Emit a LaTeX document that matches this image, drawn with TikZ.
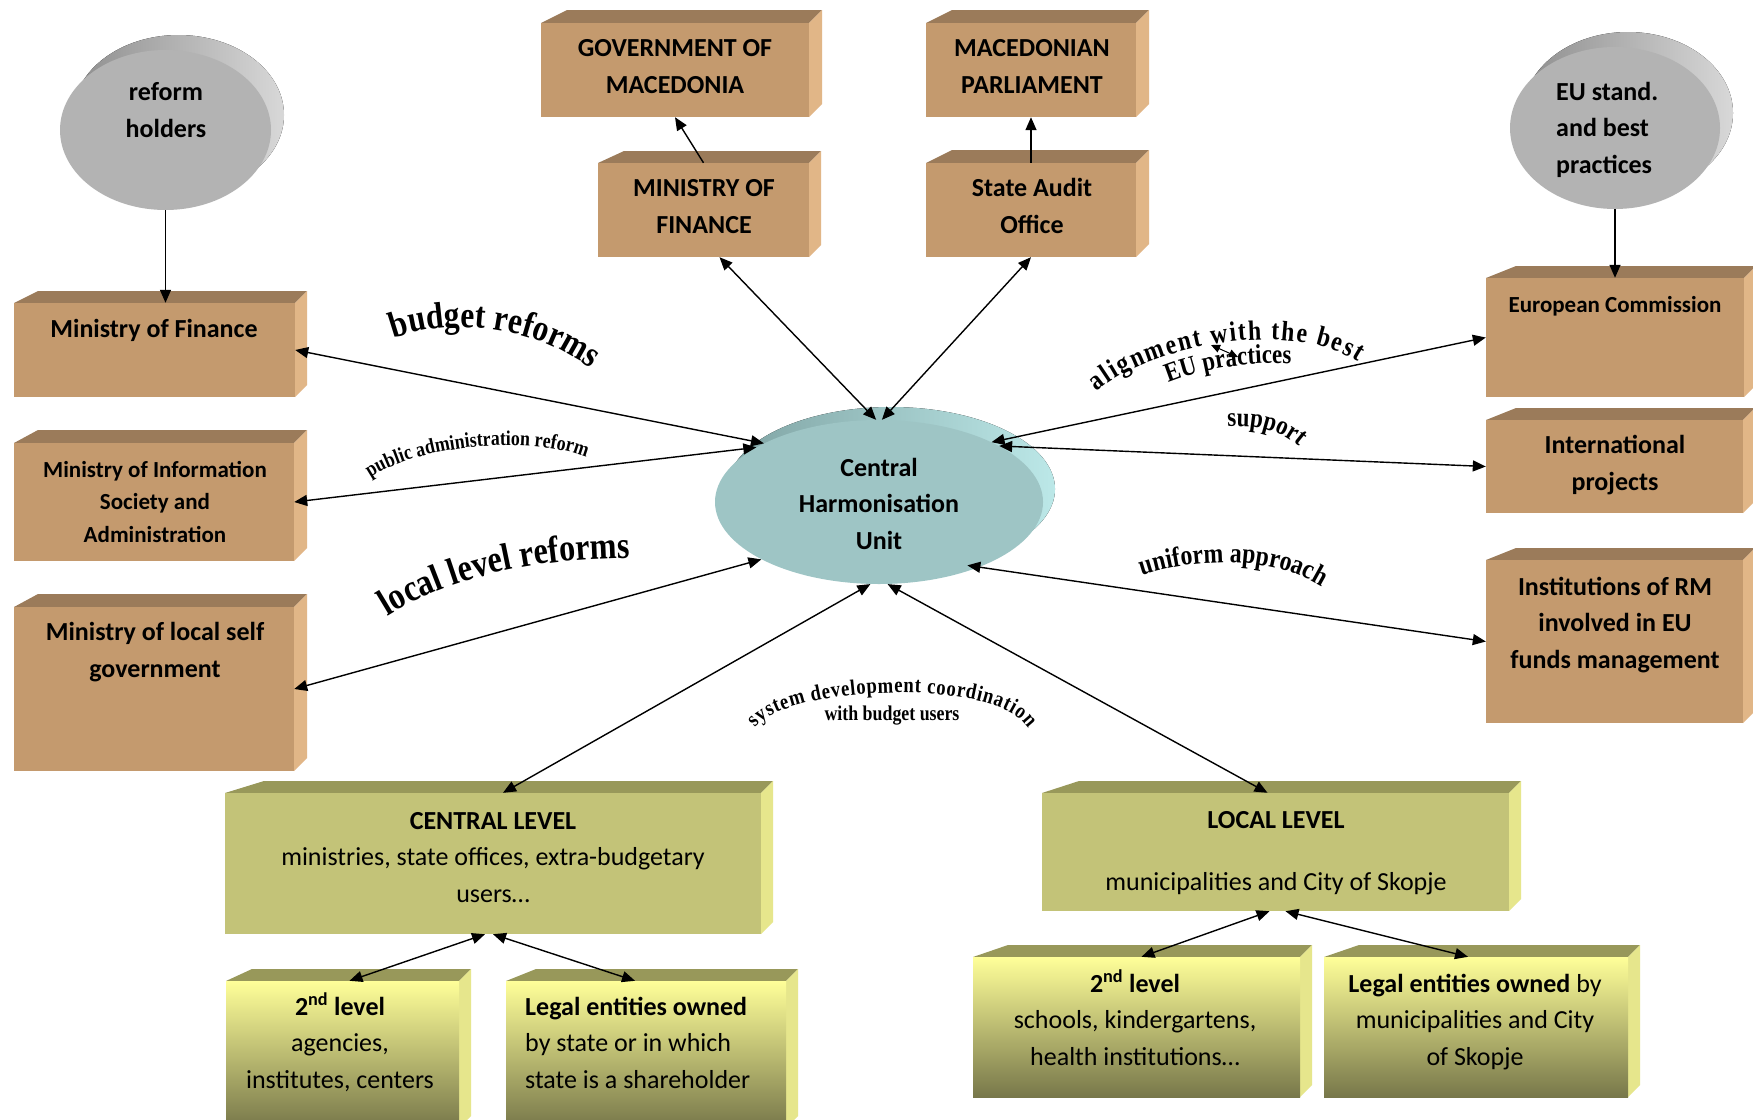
\documentclass[tikz,border=0pt]{standalone}
\usepackage{fontspec}
\setmainfont{Carlito}
\newfontfamily\wafont[FakeStretch=0.85]{Liberation Serif}
\usetikzlibrary{arrows.meta,shapes.geometric,decorations.text}
\definecolor{tanF}{HTML}{C49A6E}
\definecolor{tanT}{HTML}{9B7B5A}
\definecolor{tanS}{HTML}{E1B687}
\definecolor{olvF}{HTML}{C3C378}
\definecolor{olvT}{HTML}{98985A}
\definecolor{olvS}{HTML}{E6E68C}
\definecolor{yelA}{HTML}{FFFF99}
\definecolor{yelB}{HTML}{77774A}
\definecolor{grF}{HTML}{B3B3B3}
\definecolor{grA}{HTML}{8E8E8E}
\definecolor{grB}{HTML}{D8D8D8}
\definecolor{chF}{HTML}{9EC5C5}
\definecolor{chA}{HTML}{7FA3A3}
\definecolor{chB}{HTML}{BCE8E8}
\newcommand\fntB{\fontsize{26}{36.5}\selectfont\bfseries}
\newcommand\fntR{\fontsize{26}{36.5}\selectfont}
\newcommand\fntS{\fontsize{23}{32.5}\selectfont\bfseries}
\newcommand\solidbox[9]{%
  \fill[#8T] (#2,#3) -- ({#2+#6},{#3-#7}) -- ({#4+#7},{#3-#7}) -- (#4,#3) -- cycle;
  \fill[#8S] (#4,#3) -- ({#4+#7},{#3-#7}) -- ({#4+#7},{#5-#7}) -- (#4,#5) -- cycle;
  \node[face,#9,minimum width={#4-#2},minimum height={#5-#3}] (#1) at ({(#2+#4)/2},{(#3+#5)/2}) {};}
\tikzset{
  face/.style={rectangle,inner sep=0pt,draw=none},
  arr/.style={-{Triangle[length=13pt,width=11pt]},line width=1.4pt},
  darr/.style={{Triangle[length=13pt,width=11pt]}-{Triangle[length=13pt,width=11pt]},line width=1.4pt},
  smarr/.style={{Triangle[length=9pt,width=8pt]}-{Triangle[length=9pt,width=8pt]},line width=1pt},
  tb/.style={font=\fntB,align=center,anchor=base,inner sep=0pt},
  ts/.style={font=\fntS,align=center,anchor=base,inner sep=0pt},
  tr/.style={font=\fntR,align=center,anchor=base,inner sep=0pt},
  disc/.style={ellipse,inner sep=0pt,draw=none},
  arch/.style={decorate,decoration={text along path,text align=center,text={#1}}},
  archfit/.style={decorate,decoration={text along path,text align=fit to path,text={#1}}}
}
\begin{document}
\begin{tikzpicture}[x=1pt,y=-1pt]
\clip (0,0) rectangle (1753,1119);
\fill[white] (0,0) rectangle (1753,1119);

% ---- tan boxes
\solidbox{gov}{541}{23}{809}{117}{26}{13}{tan}{fill=tanF}
\solidbox{mofu}{598}{163}{809}{257}{26}{12}{tan}{fill=tanF}
\solidbox{parl}{926}{23}{1136}{117}{26}{13}{tan}{fill=tanF}
\solidbox{sao}{926}{163}{1136}{257}{26}{13}{tan}{fill=tanF}
\solidbox{mofl}{14}{303}{295}{397}{24}{12}{tan}{fill=tanF}
\solidbox{mis}{14}{443}{294}{561}{24}{13}{tan}{fill=tanF}
\solidbox{mlsg}{14}{607}{294}{771}{24}{13}{tan}{fill=tanF}
\solidbox{ec}{1486}{278}{1744}{397}{30}{12}{tan}{fill=tanF}
\solidbox{ip}{1486}{420}{1743}{513}{30}{12}{tan}{fill=tanF}
\solidbox{inst}{1486}{560}{1743}{723}{30}{12}{tan}{fill=tanF}
% ---- olive boxes
\solidbox{cl}{225}{793}{761}{934}{39}{12}{olv}{fill=olvF}
\solidbox{ll}{1042}{793}{1509}{911}{37}{12}{olv}{fill=olvF}
\solidbox{c2}{226}{981}{459}{1128}{26}{12}{olv}{top color=yelA,bottom color=yelB}
\solidbox{c3}{506}{981}{786}{1128}{30}{12}{olv}{top color=yelA,bottom color=yelB}
\solidbox{l2}{973}{957}{1300}{1097}{35}{12}{olv}{top color=yelA,bottom color=yelB}
\solidbox{l3}{1324}{957}{1628}{1097}{35}{12}{olv}{top color=yelA,bottom color=yelB}

% ---- discs
\fill[left color=grA,right color=grB] (178.5,115) ellipse [x radius=105.5,y radius=80];
\node[disc,fill=grF,minimum width=211,minimum height=160] (reform) at (165.5,130) {};
\fill[left color=grA,right color=grB] (1628,113) ellipse [x radius=105,y radius=81];
\node[disc,fill=grF,minimum width=210,minimum height=162] (eu) at (1615,128) {};
\fill[left color=chA,right color=chB] (891,489) ellipse [x radius=164,y radius=82];
\node[disc,fill=chF,minimum width=328,minimum height=164] (chu) at (879,502) {};

% ---- texts (anchor = baseline of the last line)
\node[tb] (gov-t) at (675,93) {GOVERNMENT OF\\MACEDONIA};
\node[tb] (mofu-t) at (704,233) {MINISTRY OF\\FINANCE};
\node[tb] (parl-t) at (1032,93) {MACEDONIAN\\PARLIAMENT};
\node[tb] (sao-t) at (1032,233) {State Audit\\Office};
\node[tb] (mofl-t) at (154,337) {Ministry of Finance};
\node[ts] (mis-t) at (155,542) {Ministry of Information\\Society and\\Administration};
\node[tb] (mlsg-t) at (155,677) {Ministry of local self\\government};
\node[ts] (ec-t) at (1615,312) {European Commission};
\node[tb] (ip-t) at (1615,490) {International\\projects};
\node[tb] (inst-t) at (1615,668) {Institutions of RM\\involved in EU\\funds management};
\node[tb] (reform-t) at (166,137) {reform\\holders};
\node[tb,align=left,anchor=base west] (eu-t) at (1556,173) {EU stand.\\and best\\practices};
\node[tb] (chu-t) at (879,549) {Central\\Harmonisation\\Unit};
\node[tr] (cl-t) at (493,902) {\textbf{CENTRAL LEVEL}\\ministries, state offices, extra-budgetary\\users…};
\node[tr] (ll-t) at (1276,828) {\textbf{LOCAL LEVEL}};
\node[tr] (ll-t2) at (1276,890) {municipalities and City of Skopje};
\node[tr] (c2-t) at (340,1088) {\textbf{2\textsuperscript{nd} level}\\agencies,\\institutes, centers};
\node[tr,align=left,anchor=base west] (c3-t) at (525,1088) {\textbf{Legal entities owned}\\by state or in which\\state is a shareholder};
\node[tr] (l2-t) at (1135,1065) {\textbf{2\textsuperscript{nd} level}\\schools, kindergartens,\\health institutions…};
\node[tr] (l3-t) at (1475,1065) {\textbf{Legal entities owned} by\\municipalities and City\\of Skopje};

% ---- connectors
\draw[arr] (mofu.north) -- (gov.south);
\draw[arr] (sao.north) -- (parl.south);
\draw[arr] (reform.south) -- ([xshift=11pt]mofl.north);
\draw[arr] (eu.south) -- (ec.north);
\draw[darr] (chu.153) -- (mofl.east);
\draw[darr] (chu.156) -- (mis.east);
\draw[darr] (chu.206) -- (mlsg.east);
\draw[darr] (chu.264) -- ([xshift=10pt]cl.north);
\draw[darr] (chu.276) -- ([xshift=-8pt]ll.north);
\draw[darr] (chu.92) -- ([xshift=16pt]mofu.south);
\draw[darr] (chu.88) -- (sao.south);
\draw[darr] (chu.28) -- (ec.west);
\draw[darr] (chu.25) -- (ip.west);
\draw[darr,shorten <=-12pt] (chu.-33) -- (inst.west);
\draw[darr] ([xshift=-8pt]cl.south) -- ([xshift=7pt]c2.north);
\draw[darr] (cl.south) -- ([xshift=-11pt]c3.north);
\draw[darr] ([xshift=-6pt]ll.south) -- ([xshift=5pt]l2.north);
\draw[darr] ([xshift=10pt]ll.south) -- ([xshift=-8pt]l3.north);
\coordinate (tw1) at (1211,345);
\coordinate (tw2) at (1238,357);
\draw[smarr] (tw1) -- (tw2);

% ---- arched labels
\path[arch={|\wafont\bfseries\fontsize{37}{37}\selectfont|budget reforms}] (378,346) .. controls (420,320) and (530,313) .. (604,380);
\path[arch={|\wafont\bfseries\fontsize{21}{21}\selectfont|public administration reform}] (360,486) .. controls (400,446) and (540,430) .. (598,463);
\path[arch={|\wafont\bfseries\fontsize{38}{38}\selectfont|local level reforms}] (374,625) .. controls (430,585) and (520,556) .. (646,558);
\path[archfit={|\wafont\bfseries\fontsize{28}{28}\selectfont|alignment with the best}] (1097,392) .. controls (1150,345) and (1290,318) .. (1358,362);
\path[arch={|\wafont\bfseries\fontsize{27}{27}\selectfont|EU practices}] (1160,386) .. controls (1200,368) and (1250,361) .. (1300,364);
\path[arch={|\wafont\bfseries\fontsize{27}{27}\selectfont|support}] (1212,428) .. controls (1248,424) and (1282,424) .. (1310,458);
\path[arch={|\wafont\bfseries\fontsize{28}{28}\selectfont|uniform approach}] (1130,580) .. controls (1190,556) and (1280,553) .. (1332,594);
\path[archfit={|\wafont\bfseries\fontsize{22}{22}\selectfont|system development coordination}] (755,728) .. controls (785,686) and (995,676) .. (1028,728);
\node[font=\wafont\bfseries\fontsize{21}{21}\selectfont,anchor=base,inner sep=0pt] (wbu) at (892,720) {with budget users};
\end{tikzpicture}
\end{document}
